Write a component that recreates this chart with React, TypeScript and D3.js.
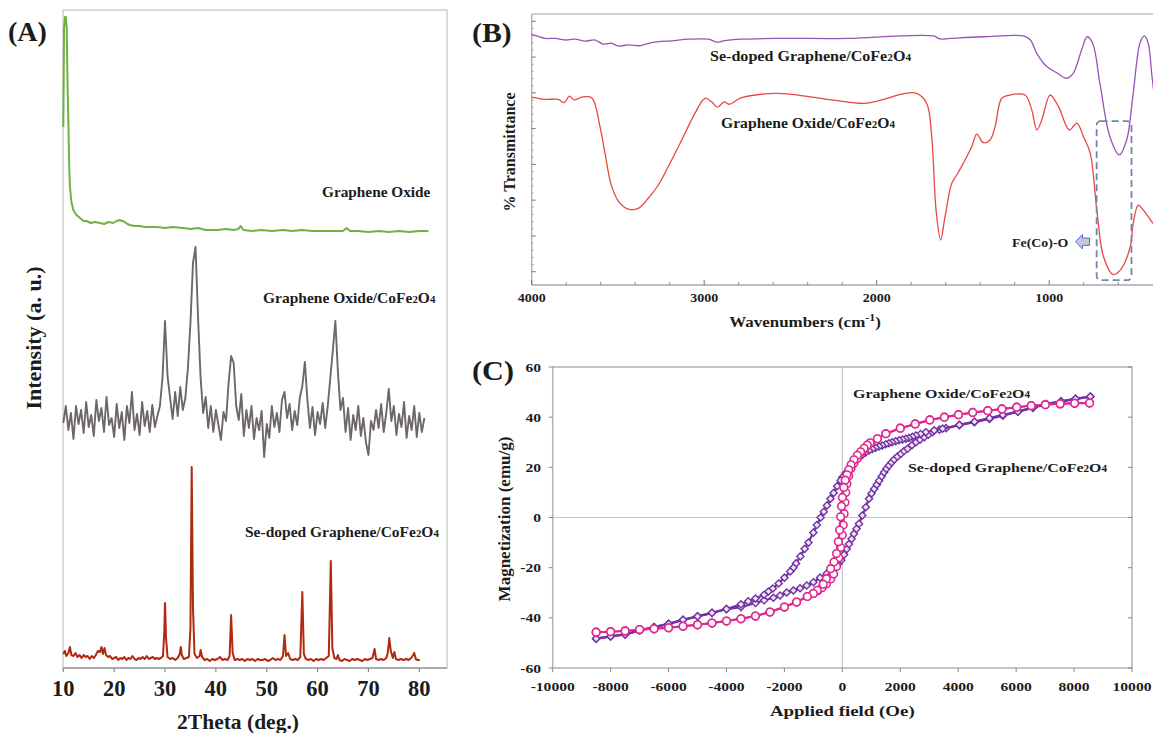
import React from 'react';
import * as d3 from 'd3';

const FONT = '"Liberation Serif", "Times New Roman", Times, serif';
const INK = '#1c1c1c';

// ---------------- (A) XRD: 2theta (deg) vs stacked intensity (a.u.) ----------------
const xrdTicks = [10, 20, 30, 40, 50, 60, 70, 80];

const goXrd: [number, number][] = [
  [10.0, 541], [10.15, 640], [10.33, 651], [10.5, 651], [10.67, 640], [10.85, 580], [10.98, 551],
  [11.15, 505], [11.3, 481], [11.6, 466], [11.97, 458], [12.6, 453], [13.3, 450], [14.0, 447],
  [14.6, 447], [15.4, 445], [16.2, 446], [17.2, 445], [18.0, 444], [18.9, 446], [19.8, 445],
  [20.5, 447], [21.1, 448], [21.6, 447], [22.1, 446], [22.6, 444], [23.1, 443], [24.0, 442],
  [25.0, 442], [26.0, 441], [27.0, 441], [28.5, 441], [30.0, 440], [31.5, 441], [33.6, 440],
  [35.0, 439], [36.5, 440], [38.0, 438], [40.2, 438], [42.0, 439], [43.5, 438], [44.4, 439],
  [44.9, 442], [45.4, 438], [47.0, 437], [49.0, 438], [51.0, 437], [53.3, 438], [55.0, 437],
  [57.0, 438], [59.0, 437], [61.0, 437], [63.1, 437], [65.0, 437], [65.7, 440], [66.4, 437],
  [68.0, 437], [70.0, 436], [72.0, 437], [74.0, 436], [76.0, 437], [78.0, 436], [80.0, 437],
  [81.8, 437],
];

// Graphene Oxide/CoFe2O4, sampled every 0.5 deg from 10 deg
const goCfoXrdStart = 10;
const goCfoXrdStep = 0.5;
const goCfoXrd = [
  245, 262, 238, 255, 229, 262, 244, 258, 235, 266, 241, 253, 232, 268, 247, 260, 236, 271, 243, 250,
  231, 264, 240, 256, 228, 262, 245, 276, 238, 254, 233, 266, 242, 257, 236, 263, 241, 252, 262, 290,
  347, 292, 270, 249, 276, 252, 281, 258, 270, 300, 345, 405, 421, 350, 290, 255, 271, 240, 262, 236,
  258, 243, 228, 256, 247, 285, 312, 305, 262, 248, 274, 232, 258, 240, 262, 229, 250, 238, 257, 211,
  244, 230, 262, 241, 255, 236, 268, 276, 250, 264, 238, 257, 243, 270, 282, 306, 268, 240, 261, 233,
  256, 244, 265, 240, 262, 290, 318, 347, 296, 258, 270, 236, 260, 228, 253, 238, 262, 232, 250, 226,
  213, 247, 238, 258, 240, 264, 236, 255, 279, 247, 262, 233, 254, 241, 266, 230, 252, 238, 262, 231,
  255, 236, 250,
];

const seCfoXrd: [number, number][] = [
  [10, 14], [10.3, 17], [10.6, 12], [11, 15], [11.3, 21], [11.6, 13], [12, 12], [12.4, 15], [12.8, 11],
  [13.2, 13], [13.6, 10], [14, 13], [14.4, 11], [14.8, 12], [15.2, 9], [15.6, 12], [16, 10], [16.4, 13],
  [16.8, 17], [17.2, 16], [17.5, 21], [17.8, 14], [18.1, 20], [18.4, 13], [18.8, 11], [19.2, 12],
  [19.6, 9], [20, 10], [20.4, 11], [20.8, 8], [21.2, 10], [21.6, 9], [22, 11], [22.4, 8], [22.8, 10],
  [23.2, 9], [23.6, 12], [24, 9], [24.4, 8], [24.8, 10], [25.2, 9], [25.6, 11], [26, 9], [26.4, 12],
  [26.8, 9], [27.2, 10], [27.6, 11], [28, 9], [28.4, 10], [28.8, 9], [29.2, 10], [29.6, 12], [29.85, 35],
  [30.0, 65], [30.2, 30], [30.5, 11], [31, 9], [31.5, 10], [32, 8], [32.5, 10], [32.9, 14], [33.1, 21],
  [33.3, 13], [33.7, 9], [34.2, 10], [34.7, 11], [35.0, 40], [35.25, 201], [35.5, 60], [35.8, 14],
  [36.3, 10], [36.8, 12], [37.0, 18], [37.3, 11], [37.8, 8], [38.3, 9], [38.8, 7], [39.3, 9], [39.8, 8],
  [40.3, 9], [40.8, 11], [41.3, 8], [41.8, 9], [42.3, 8], [42.7, 12], [43.0, 53], [43.3, 15], [43.7, 8],
  [44.2, 9], [44.7, 8], [45.2, 9], [45.7, 7], [46.2, 9], [46.7, 8], [47.2, 9], [47.7, 7], [48.2, 9],
  [48.7, 8], [49.2, 8], [49.7, 9], [50.2, 7], [50.7, 8], [51.2, 10], [51.7, 8], [52.2, 9], [52.7, 8],
  [53.2, 12], [53.5, 33], [53.8, 12], [54.2, 15], [54.6, 9], [55.1, 8], [55.6, 9], [56.1, 8], [56.6, 11],
  [57.0, 76], [57.3, 14], [57.7, 9], [58.2, 8], [58.7, 9], [59.2, 7], [59.7, 9], [60.2, 8], [60.7, 9],
  [61.2, 8], [61.7, 10], [62.2, 12], [62.6, 107], [62.9, 20], [63.3, 10], [63.7, 9], [64.0, 13],
  [64.3, 8], [64.8, 7], [65.3, 9], [65.8, 8], [66.3, 7], [66.8, 9], [67.3, 8], [67.8, 9], [68.3, 8],
  [68.8, 7], [69.3, 9], [69.8, 8], [70.3, 9], [70.8, 10], [71.2, 19], [71.5, 9], [72, 8], [72.5, 9],
  [73, 8], [73.5, 10], [73.8, 15], [74.1, 30], [74.4, 17], [74.8, 10], [75.1, 16], [75.4, 9], [75.9, 8],
  [76.4, 9], [76.9, 8], [77.4, 9], [77.9, 8], [78.4, 10], [78.8, 13], [79.0, 15], [79.3, 9], [79.7, 8],
  [80.1, 8],
];

// ---------------- (B) FTIR: wavenumber (cm-1) vs transmittance (%) ----------------
const ftirTicks = [4000, 3000, 2000, 1000];
const ftirMajorY = [4.9, 18.1, 31.3, 44.5, 57.7, 70.9, 84.1, 97.3];

const seCfoFtir: [number, number][] = [
  [4000, 92.5], [3971, 91.9], [3923, 91.0], [3865, 91.0], [3807, 90.4], [3749, 90.7], [3691, 90.0],
  [3633, 90.4], [3585, 88.9], [3536, 89.2], [3498, 88.2], [3440, 88.6], [3372, 88.3], [3324, 89.2],
  [3266, 89.8], [3188, 90.1], [3092, 90.7], [2976, 90.7], [2924, 89.6], [2889, 90.1], [2783, 90.7],
  [2551, 91.0], [2165, 91.0], [1865, 91.9], [1672, 91.9], [1633, 90.8], [1575, 91.0], [1382, 91.6],
  [1150, 91.9], [1110, 90.5], [1072, 85.5], [1014, 80.6], [956, 78.3], [899, 76.3], [861, 78.1],
  [812, 86.7], [780, 91.6], [748, 89.2], [706, 74.4], [648, 54.7], [594, 48], [551, 53.5], [513, 70.7],
  [474, 89.2], [449, 91.9], [426, 89.2], [406, 78.1], [395, 72],
];

const goCfoFtir: [number, number][] = [
  [4000, 69.3], [3923, 68.5], [3846, 68.5], [3811, 67.3], [3782, 69.7], [3753, 68.3], [3710, 69.3],
  [3652, 69.1], [3604, 58.4], [3575, 48.6], [3536, 36.3], [3488, 30.1], [3440, 28.0], [3382, 28.3],
  [3324, 32.0], [3266, 36.9], [3208, 43.7], [3130, 53.5], [3053, 63.4], [2995, 68.9], [2957, 67.6],
  [2924, 65.6], [2884, 67.6], [2856, 66.7], [2783, 69.1], [2589, 70.7], [2455, 70.1], [2261, 68.3],
  [2068, 67.0], [1971, 68.3], [1836, 70.7], [1768, 70.7], [1710, 67.0], [1681, 54.7], [1656, 27.7],
  [1629, 16.6], [1604, 25.2], [1565, 37.5], [1536, 40.6], [1498, 44.9], [1449, 51], [1420, 55.7],
  [1382, 52.5], [1343, 53.5], [1314, 58.4], [1275, 68.9], [1227, 70.1], [1140, 70.1], [1101, 64.6],
  [1072, 57.2], [1043, 60.9], [995, 70.1], [946, 65.8], [883, 57.2], [840, 59.7], [801, 54.7],
  [762, 48.6], [724, 27.7], [685, 10.4], [630, 3.9], [588, 5.5], [530, 14.1], [513, 22.8], [484, 29.5],
  [455, 27.7], [406, 23.4], [395, 22.5],
];

// ---------------- (C) VSM: applied field (Oe) vs magnetization (emu/g) ----------------
const vsmXTicks = [-10000, -8000, -6000, -4000, -2000, 0, 2000, 4000, 6000, 8000, 10000];
const vsmYTicks = [-60, -40, -20, 0, 20, 40, 60];

// Graphene Oxide/CoFe2O4 loop (saturated tails shared by both branches)
const goVsmNeg: [number, number][] = [
  [-8500, -45.7], [-8000, -45.5], [-7500, -45.2], [-7000, -44.7], [-6500, -44.4], [-6000, -44.0],
  [-5500, -43.4], [-5000, -42.8], [-4500, -42.1], [-4000, -41.3], [-3500, -40.4], [-3000, -39.3],
  [-2500, -37.7], [-2000, -35.7], [-1580, -33.7], [-1210, -31.5],
];
const goVsmPos: [number, number][] = [
  [1210, 31.4], [1500, 33.4], [2000, 35.6], [2515, 37.3], [3020, 38.9], [3520, 40.0], [4010, 41.0],
  [4500, 41.9], [5020, 42.6], [5510, 43.3], [6020, 44.0], [6520, 44.6], [7010, 45.0], [7520, 45.3],
  [8020, 45.5], [8535, 45.6],
];
const goVsmUp: [number, number][] = [
  [-1000, -30.3], [-850, -29.2], [-700, -28], [-550, -26.5], [-400, -24.5], [-300, -22.5], [-200, -19.5],
  [-120, -16], [-60, -12], [0, -7], [30, -3], [60, 1.5], [90, 6], [120, 10], [160, 13.5], [220, 16.5],
  [300, 19.5], [400, 21.6], [520, 23.5], [630, 25.4], [750, 27.1], [865, 28.7], [960, 29.6],
];
const goVsmDown: [number, number][] = [
  [960, 29.8], [865, 28.9], [750, 27.6], [630, 26.2], [520, 24.8], [400, 23], [300, 21], [220, 19],
  [160, 17], [100, 14.9], [50, 12], [0, 8], [-30, 4.5], [-60, 0.3], [-95, -5], [-140, -9.7], [-200, -14.4],
  [-290, -17.7], [-405, -20.4], [-550, -24.4], [-660, -26.6], [-865, -29], [-1000, -30.3],
];

// Se-doped Graphene/CoFe2O4 loop
const seVsmNeg: [number, number][] = [
  [-8500, -48.3], [-8000, -47.4], [-7500, -46.6], [-7000, -45], [-6500, -43.7], [-6000, -42.4],
  [-5500, -40.8], [-5000, -39.4], [-4500, -38], [-4000, -36.5],
];
const seVsmPos: [number, number][] = [
  [6060, 42.2], [6580, 43.8], [7030, 45.2], [7550, 46.3], [8050, 47.3], [8560, 48.2],
];
const seVsmUp: [number, number][] = [
  [-3500, -35.7], [-3000, -34.1], [-2700, -33], [-2380, -32], [-2150, -31.1], [-1920, -29.9],
  [-1690, -29.1], [-1460, -28.2], [-1230, -27.1], [-1000, -25.8], [-770, -24], [-540, -22.4],
  [-310, -20.4], [-150, -18.6], [-40, -17], [60, -14.8], [150, -12.6], [230, -10.6], [320, -8.5],
  [400, -6.5], [490, -4.5], [575, -2.5], [690, 0.8], [810, 4.1], [920, 7.5], [1010, 9.6], [1100, 11.4],
  [1190, 13.1], [1270, 14.7], [1360, 16.4], [1440, 18], [1520, 19.4], [1610, 20.7], [1700, 22],
  [1790, 23.1], [1900, 24.3], [2020, 25.4], [2130, 26.5], [2250, 27.4], [2400, 28.8], [2540, 30],
  [2680, 31], [2830, 32], [2970, 33], [3110, 34], [3350, 35.0], [3580, 35.6], [4040, 36.8],
  [4560, 38.0], [5080, 39.3], [5540, 40.6],
];
const seVsmDown: [number, number][] = [
  [5540, 40.9], [5080, 39.6], [4560, 38.2], [4040, 36.9], [3460, 35.4], [3170, 34.7], [2880, 34],
  [2700, 33.3], [2540, 32.7], [2420, 32.2], [2300, 31.7], [2190, 31.4], [2080, 31.1], [1960, 30.8],
  [1840, 30.4], [1720, 30], [1610, 29.6], [1500, 29.2], [1380, 28.7], [1270, 28.3], [1150, 27.8],
  [1040, 27.3], [920, 26.7], [800, 25.9], [690, 25], [580, 23.9], [460, 22.6], [350, 21], [230, 19.3],
  [120, 17.8], [0, 16], [-60, 14.8], [-180, 12.5], [-300, 9.8], [-410, 7.5], [-530, 4.8], [-640, 2.3],
  [-750, 0], [-880, -3], [-1000, -6], [-1170, -10], [-1300, -12.5], [-1450, -15.5], [-1600, -18.3],
  [-1690, -20], [-1800, -21.5], [-2000, -24], [-2200, -26.3], [-2400, -28.3], [-2550, -29.5],
  [-2700, -30.8], [-3000, -32.3], [-3250, -33.4], [-3500, -34.6],
];

const Chem = ({ pre }: { pre: string }) => (
  <>
    {pre}CoFe<tspan fontSize="70%">2</tspan>O<tspan fontSize="70%">4</tspan>
  </>
);

type LabelProps = {
  x: number; y: number; size: number; sx?: number; anchor?: string; rotate?: number;
  children: React.ReactNode;
};
const Label = ({ x, y, size, sx = 1, anchor = 'start', rotate = 0, children }: LabelProps) => (
  <text
    transform={`translate(${x},${y}) rotate(${rotate}) scale(${sx},1)`}
    fontFamily={FONT}
    fontWeight="bold"
    fontSize={size}
    textAnchor={anchor}
    fill={INK}
  >
    {children}
  </text>
);

const diamond = (r: number) => `M0,${-r}L${r},0L0,${r}L${-r},0Z`;

export default function App() {
  // panel A
  const xA = d3.scaleLinear().domain([10, 80]).range([63.3, 419.3]);
  const yA = d3.scaleLinear().domain([0, 660]).range([668, 8]);
  const lineA = d3.line<[number, number]>().x(d => xA(d[0])).y(d => yA(d[1]));
  const goCfoPts: [number, number][] = goCfoXrd.map((v, i) => [goCfoXrdStart + i * goCfoXrdStep, v]);
  const aLeft = 63, aRight = 447, aTop = 10, aBottom = 668;

  // panel B
  const xB = d3.scaleLinear().domain([4000, 400]).range([531.7, 1152.7]);
  const yB = d3.scaleLinear().domain([0, 100]).range([285, 14]);
  const lineB = d3.line<[number, number]>().x(d => xB(d[0])).y(d => yB(d[1])).curve(d3.curveCatmullRom.alpha(0.5));
  const bLeft = xB(4000), bTop = yB(100), bBottom = yB(0);
  const bMinorX = d3.range(3800, 400, -200);
  const bMinorY: number[] = [];
  ftirMajorY.forEach((v, i) => {
    if (i < ftirMajorY.length - 1) {
      const step = (ftirMajorY[i + 1] - v) / 5;
      for (let k = 1; k < 5; k++) bMinorY.push(v + k * step);
    }
  });

  // panel C
  const xC = d3.scaleLinear().domain([-10000, 10000]).range([552.7, 1132]);
  const yC = d3.scaleLinear().domain([-60, 60]).range([668, 367]);
  const lineC = d3.line<[number, number]>().x(d => xC(d[0])).y(d => yC(d[1]));
  const goAsc = [...goVsmNeg, ...goVsmUp, ...goVsmPos];
  const goDesc = [...[...goVsmPos].reverse(), ...goVsmDown, ...[...goVsmNeg].reverse()];
  const seAsc = [...seVsmNeg, ...seVsmUp, ...seVsmPos];
  const seDesc = [...[...seVsmPos].reverse(), ...seVsmDown, ...[...seVsmNeg].reverse()];
  const pink = '#e0288e';
  const purple = '#7232a2';

  return (
    <svg
      width={1153}
      height={733}
      style={{ position: 'absolute', left: 0, top: 0, background: '#fff' }}
    >
      <rect width={1153} height={733} fill="#fff" />

      {/* ---------- (A) ---------- */}
      <Label x={8} y={41} size={28}>(A)</Label>
      <rect x={aLeft} y={aTop} width={aRight - aLeft} height={aBottom - aTop} fill="none" stroke="#cfcfcf" strokeWidth={1.5} />
      <line x1={aLeft} x2={aRight} y1={aBottom} y2={aBottom} stroke="#9c9c9c" strokeWidth={1.5} />
      {xrdTicks.map(t => (
        <g key={t}>
          <line x1={xA(t)} x2={xA(t)} y1={aBottom} y2={aBottom + 4} stroke="#8a8a8a" strokeWidth={1.2} />
          <Label x={xA(t)} y={696} size={22.5} anchor="middle">{t}</Label>
        </g>
      ))}
      <path d={lineA(goXrd) || ''} fill="none" stroke="#6fb143" strokeWidth={2} strokeLinejoin="round" />
      <path d={lineA(goCfoPts) || ''} fill="none" stroke="#6d6767" strokeWidth={1.9} strokeLinejoin="round" />
      <path d={lineA(seCfoXrd) || ''} fill="none" stroke="#b2290f" strokeWidth={2} strokeLinejoin="round" />
      <Label x={322} y={197} size={15.3}>Graphene Oxide</Label>
      <Label x={263} y={303} size={15.5}><Chem pre="Graphene Oxide/" /></Label>
      <Label x={245} y={537} size={15.5}><Chem pre="Se-doped Graphene/" /></Label>
      <Label x={238} y={729} size={21.5} anchor="middle">2Theta (deg.)</Label>
      <Label x={41} y={338} size={22} anchor="middle" rotate={-90}>Intensity (a. u.)</Label>

      {/* ---------- (B) ---------- */}
      <Label x={472} y={42} size={27} sx={1.1}>(B)</Label>
      <line x1={bLeft} x2={1153} y1={bTop} y2={bTop} stroke="#cfcfcf" strokeWidth={2} />
      <line x1={bLeft} x2={bLeft} y1={bTop} y2={bBottom} stroke="#b4b4b4" strokeWidth={1.5} />
      <line x1={bLeft} x2={1153} y1={bBottom} y2={bBottom} stroke="#a8a8a8" strokeWidth={1.5} />
      {ftirTicks.map(t => (
        <g key={t}>
          <line x1={xB(t)} x2={xB(t)} y1={bBottom} y2={bBottom - 5} stroke="#777" strokeWidth={1} />
          <Label x={xB(t)} y={302} size={12.5} sx={1.12} anchor="middle">{t}</Label>
        </g>
      ))}
      {bMinorX.filter(t => !ftirTicks.includes(t)).map(t => (
        <line key={t} x1={xB(t)} x2={xB(t)} y1={bBottom} y2={bBottom - 3} stroke="#888" strokeWidth={1} />
      ))}
      {ftirMajorY.map(v => (
        <line key={v} x1={bLeft} x2={bLeft + 4} y1={yB(v)} y2={yB(v)} stroke="#777" strokeWidth={1} />
      ))}
      {bMinorY.map(v => (
        <line key={v} x1={bLeft} x2={bLeft + 2} y1={yB(v)} y2={yB(v)} stroke="#999" strokeWidth={0.8} />
      ))}
      <path d={lineB(seCfoFtir) || ''} fill="none" stroke="#9b52b6" strokeWidth={1.3} />
      <path d={lineB(goCfoFtir) || ''} fill="none" stroke="#e84840" strokeWidth={1.3} />
      <rect
        x={xB(725)} y={yB(60.5)} width={xB(523) - xB(725)} height={yB(1.8) - yB(60.5)} rx={4}
        fill="none" stroke="#6f8aa8" strokeWidth={1.8} strokeDasharray="7,4"
      />
      <Label x={710} y={61} size={14.5} sx={1.11}><Chem pre="Se-doped Graphene/" /></Label>
      <Label x={721} y={128} size={14.5} sx={1.08}><Chem pre="Graphene Oxide/" /></Label>
      <Label x={1012} y={246.5} size={13} sx={1.07}>Fe(Co)-O</Label>
      <path
        d="M1075.5,241.7 L1082.5,234.5 L1082.5,238 L1089.5,238 L1089.5,245.4 L1082.5,245.4 L1082.5,249 Z"
        fill="#c6c6d8" stroke="#5b6cc6" strokeWidth={1}
      />
      <Label x={805} y={327} size={15} sx={1.13} anchor="middle">
        Wavenumbers (cm<tspan dy={-6} fontSize="70%">-1</tspan><tspan dy={6}>)</tspan>
      </Label>
      <Label x={515} y={152} size={16} anchor="middle" rotate={-90}>% Transmittance</Label>

      {/* ---------- (C) ---------- */}
      <Label x={472} y={380} size={27} sx={1.12}>(C)</Label>
      <line x1={xC(0)} x2={xC(0)} y1={yC(60)} y2={yC(-60)} stroke="#c6c6c6" strokeWidth={1.2} />
      <line x1={xC(-10000)} x2={xC(10000)} y1={yC(0)} y2={yC(0)} stroke="#c6c6c6" strokeWidth={1.2} />
      <rect x={xC(-10000)} y={yC(60)} width={xC(10000) - xC(-10000)} height={yC(-60) - yC(60)} fill="none" stroke="#b3b3b3" strokeWidth={1.5} />
      {vsmYTicks.map(t => (
        <g key={t}>
          <line x1={xC(-10000) - 4} x2={xC(-10000)} y1={yC(t)} y2={yC(t)} stroke="#888" />
          <line x1={xC(10000) - 4} x2={xC(10000)} y1={yC(t)} y2={yC(t)} stroke="#888" />
          <Label x={541} y={yC(t) + 4.5} size={13} sx={1.2} anchor="end">{t}</Label>
        </g>
      ))}
      {vsmXTicks.map(t => (
        <g key={t}>
          <line x1={xC(t)} x2={xC(t)} y1={yC(-60)} y2={yC(-60) + 4} stroke="#888" />
          <Label x={xC(t)} y={691} size={13} sx={1.2} anchor="middle">{t}</Label>
        </g>
      ))}

      {[seAsc, seDesc].map((s, i) => (
        <g key={`se${i}`}>
          <path d={lineC(s) || ''} fill="none" stroke={purple} strokeWidth={2.2} />
          {s.map((d, j) => (
            <path key={j} d={diamond(3.6)} transform={`translate(${xC(d[0])},${yC(d[1])})`} fill="#eee4f4" stroke={purple} strokeWidth={1.4} />
          ))}
        </g>
      ))}
      {[goAsc, goDesc].map((s, i) => (
        <g key={`go${i}`}>
          <path d={lineC(s) || ''} fill="none" stroke={pink} strokeWidth={2} />
          {s.map((d, j) => (
            <circle key={j} cx={xC(d[0])} cy={yC(d[1])} r={3.8} fill="#fff" stroke={pink} strokeWidth={1.6} />
          ))}
        </g>
      ))}

      <Label x={853} y={398} size={13.5} sx={1.18}><Chem pre="Graphene Oxide/" /></Label>
      <Label x={908} y={472} size={13.5} sx={1.18}><Chem pre="Se-doped Graphene/" /></Label>
      <Label x={xC(0)} y={716} size={15.5} sx={1.22} anchor="middle">Applied field (Oe)</Label>
      <Label x={510} y={519} size={17} anchor="middle" rotate={-90}>Magnetization (emu/g)</Label>
    </svg>
  );
}
